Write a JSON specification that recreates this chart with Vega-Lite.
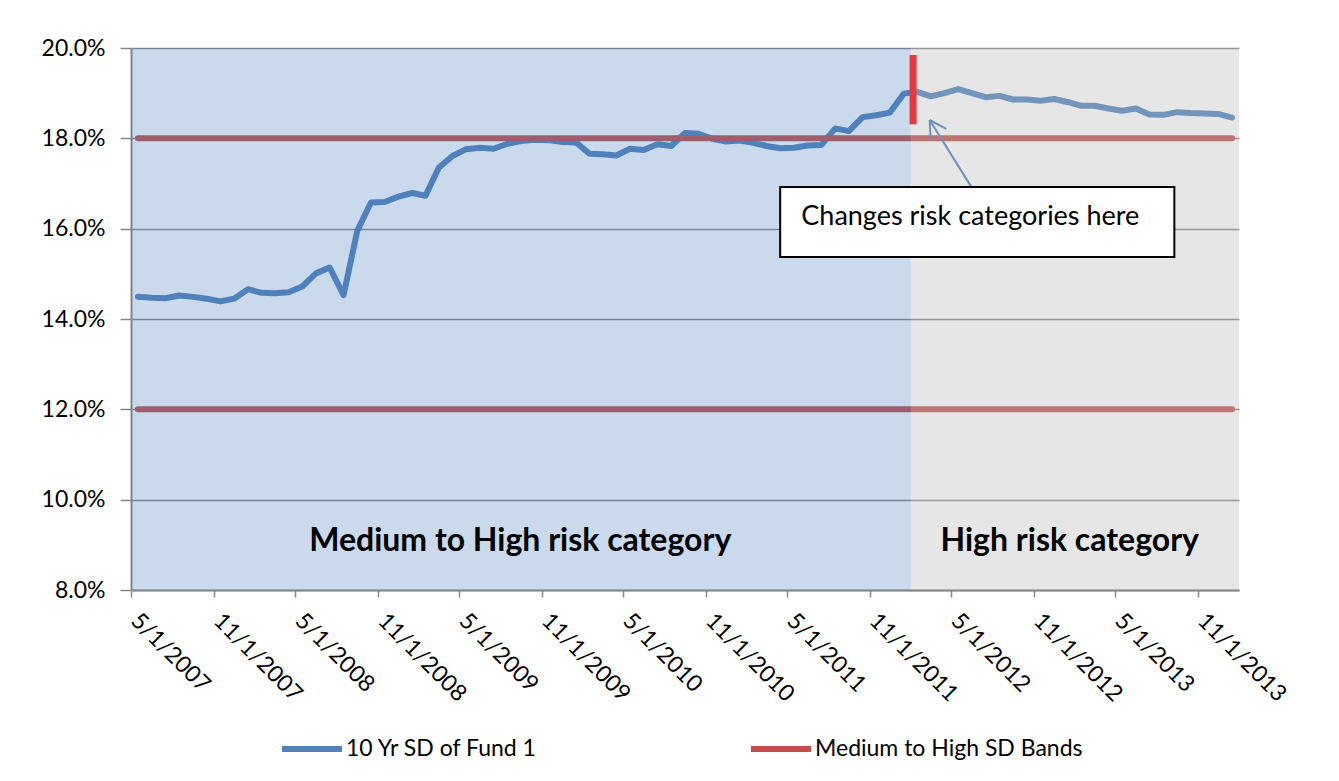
{
  "$schema": "https://vega.github.io/schema/vega-lite/v6.json",
  "width": 1108,
  "height": 542,
  "autosize": {"type": "none"},
  "padding": {"left": 131, "top": 48, "right": 100, "bottom": 191},
  "background": "white",
  "config": {"view": {"stroke": null}, "font": "Lato"},
  "datasets": {
    "sd": [
      {"date": "2007-05-01T00:00:00", "value": 0.1449},
      {"date": "2007-06-01T00:00:00", "value": 0.1447},
      {"date": "2007-07-01T00:00:00", "value": 0.1446},
      {"date": "2007-08-01T00:00:00", "value": 0.1452},
      {"date": "2007-09-01T00:00:00", "value": 0.1449},
      {"date": "2007-10-01T00:00:00", "value": 0.1445},
      {"date": "2007-11-01T00:00:00", "value": 0.1439},
      {"date": "2007-12-01T00:00:00", "value": 0.1445},
      {"date": "2008-01-01T00:00:00", "value": 0.1466},
      {"date": "2008-02-01T00:00:00", "value": 0.1458},
      {"date": "2008-03-01T00:00:00", "value": 0.1457},
      {"date": "2008-04-01T00:00:00", "value": 0.1459},
      {"date": "2008-05-01T00:00:00", "value": 0.1472},
      {"date": "2008-06-01T00:00:00", "value": 0.1501},
      {"date": "2008-07-01T00:00:00", "value": 0.1514},
      {"date": "2008-08-01T00:00:00", "value": 0.1453},
      {"date": "2008-09-01T00:00:00", "value": 0.1595},
      {"date": "2008-10-01T00:00:00", "value": 0.1658},
      {"date": "2008-11-01T00:00:00", "value": 0.1659},
      {"date": "2008-12-01T00:00:00", "value": 0.1671},
      {"date": "2009-01-01T00:00:00", "value": 0.1679},
      {"date": "2009-02-01T00:00:00", "value": 0.1673},
      {"date": "2009-03-01T00:00:00", "value": 0.1735},
      {"date": "2009-04-01T00:00:00", "value": 0.1761},
      {"date": "2009-05-01T00:00:00", "value": 0.1776},
      {"date": "2009-06-01T00:00:00", "value": 0.1779},
      {"date": "2009-07-01T00:00:00", "value": 0.1777},
      {"date": "2009-08-01T00:00:00", "value": 0.1788},
      {"date": "2009-09-01T00:00:00", "value": 0.1794},
      {"date": "2009-10-01T00:00:00", "value": 0.1797},
      {"date": "2009-11-01T00:00:00", "value": 0.1796},
      {"date": "2009-12-01T00:00:00", "value": 0.1792},
      {"date": "2010-01-01T00:00:00", "value": 0.1791},
      {"date": "2010-02-01T00:00:00", "value": 0.1766},
      {"date": "2010-03-01T00:00:00", "value": 0.1765},
      {"date": "2010-04-01T00:00:00", "value": 0.1762},
      {"date": "2010-05-01T00:00:00", "value": 0.1777},
      {"date": "2010-06-01T00:00:00", "value": 0.1774},
      {"date": "2010-07-01T00:00:00", "value": 0.1787},
      {"date": "2010-08-01T00:00:00", "value": 0.1783},
      {"date": "2010-09-01T00:00:00", "value": 0.1812},
      {"date": "2010-10-01T00:00:00", "value": 0.1810},
      {"date": "2010-11-01T00:00:00", "value": 0.1799},
      {"date": "2010-12-01T00:00:00", "value": 0.1793},
      {"date": "2011-01-01T00:00:00", "value": 0.1795},
      {"date": "2011-02-01T00:00:00", "value": 0.1790},
      {"date": "2011-03-01T00:00:00", "value": 0.1783},
      {"date": "2011-04-01T00:00:00", "value": 0.1778},
      {"date": "2011-05-01T00:00:00", "value": 0.1779},
      {"date": "2011-06-01T00:00:00", "value": 0.1784},
      {"date": "2011-07-01T00:00:00", "value": 0.1785},
      {"date": "2011-08-01T00:00:00", "value": 0.1822},
      {"date": "2011-09-01T00:00:00", "value": 0.1816},
      {"date": "2011-10-01T00:00:00", "value": 0.1847},
      {"date": "2011-11-01T00:00:00", "value": 0.1851},
      {"date": "2011-12-01T00:00:00", "value": 0.1857},
      {"date": "2012-01-01T00:00:00", "value": 0.1899},
      {"date": "2012-02-01T00:00:00", "value": 0.1903},
      {"date": "2012-03-01T00:00:00", "value": 0.1893},
      {"date": "2012-04-01T00:00:00", "value": 0.1900},
      {"date": "2012-05-01T00:00:00", "value": 0.1909},
      {"date": "2012-06-01T00:00:00", "value": 0.1900},
      {"date": "2012-07-01T00:00:00", "value": 0.1891},
      {"date": "2012-08-01T00:00:00", "value": 0.1894},
      {"date": "2012-09-01T00:00:00", "value": 0.1886},
      {"date": "2012-10-01T00:00:00", "value": 0.1886},
      {"date": "2012-11-01T00:00:00", "value": 0.1883},
      {"date": "2012-12-01T00:00:00", "value": 0.1887},
      {"date": "2013-01-01T00:00:00", "value": 0.1880},
      {"date": "2013-02-01T00:00:00", "value": 0.1872},
      {"date": "2013-03-01T00:00:00", "value": 0.1872},
      {"date": "2013-04-01T00:00:00", "value": 0.1866},
      {"date": "2013-05-01T00:00:00", "value": 0.1861},
      {"date": "2013-06-01T00:00:00", "value": 0.1866},
      {"date": "2013-07-01T00:00:00", "value": 0.1853},
      {"date": "2013-08-01T00:00:00", "value": 0.1852},
      {"date": "2013-09-01T00:00:00", "value": 0.1858},
      {"date": "2013-10-01T00:00:00", "value": 0.1856},
      {"date": "2013-11-01T00:00:00", "value": 0.1855},
      {"date": "2013-12-01T00:00:00", "value": 0.1854},
      {"date": "2014-01-01T00:00:00", "value": 0.1846}
    ],
    "bands": [
      {"date": "2007-05-01T00:00:00", "value": 0.18, "band": "upper"},
      {"date": "2014-01-01T00:00:00", "value": 0.18, "band": "upper"},
      {"date": "2007-05-01T00:00:00", "value": 0.12, "band": "lower"},
      {"date": "2014-01-01T00:00:00", "value": 0.12, "band": "lower"}
    ]
  },
  "layer": [
    {
      "data": {"name": "sd"},
      "mark": {"type": "line", "strokeWidth": 6, "strokeCap": "round", "strokeJoin": "round"},
      "encoding": {
        "x": {
          "field": "date", "type": "temporal", "timeUnit": "yearmonth", "bandPosition": 0.5,
          "scale": {"domain": [{"year": 2007, "month": 5, "date": 1}, {"year": 2014, "month": 2, "date": 1}]},
          "axis": {
            "values": [
              {"year": 2007, "month": 5, "date": 1}, {"year": 2007, "month": 11, "date": 1},
              {"year": 2008, "month": 5, "date": 1}, {"year": 2008, "month": 11, "date": 1},
              {"year": 2009, "month": 5, "date": 1}, {"year": 2009, "month": 11, "date": 1},
              {"year": 2010, "month": 5, "date": 1}, {"year": 2010, "month": 11, "date": 1},
              {"year": 2011, "month": 5, "date": 1}, {"year": 2011, "month": 11, "date": 1},
              {"year": 2012, "month": 5, "date": 1}, {"year": 2012, "month": 11, "date": 1},
              {"year": 2013, "month": 5, "date": 1}, {"year": 2013, "month": 11, "date": 1}
            ],
            "format": "%-m/%-d/%Y",
            "labelAngle": 45, "labelAlign": "left", "labelBaseline": "top",
            "labelFontSize": 23, "labelColor": "#000", "labelPadding": 12, "labelOffset": 11,
            "labelOverlap": false, "labelFlush": false, "labelBound": false, "labelLimit": 0,
            "tickColor": "#888", "tickSize": 7, "tickWidth": 1.5,
            "domainColor": "#888", "domainWidth": 2,
            "grid": false, "title": null
          }
        },
        "y": {
          "field": "value", "type": "quantitative",
          "scale": {"domain": [0.08, 0.2], "nice": false, "zero": false},
          "axis": {
            "values": [0.08, 0.1, 0.12, 0.14, 0.16, 0.18, 0.2],
            "format": ".1%", "labelFontSize": 23, "labelColor": "#000", "labelPadding": 15,
            "tickColor": "#888", "tickSize": 11, "tickWidth": 1.5,
            "domainColor": "#888", "domainWidth": 2,
            "gridColor": "#868686", "gridWidth": 1.5, "title": null
          }
        },
        "color": {
          "datum": "10 Yr SD of Fund 1",
          "scale": {"domain": ["10 Yr SD of Fund 1", "Medium to High SD Bands"], "range": ["#4F81BD", "#C0504D"]},
          "legend": {
            "orient": "none", "legendX": 148, "legendY": 668, "direction": "horizontal",
            "title": null, "symbolType": "stroke", "symbolSize": 3600, "symbolStrokeWidth": 6,
            "labelFontSize": 23, "labelColor": "#000", "labelLimit": 0, "columnPadding": 201, "labelOffset": 1,
            "padding": 0
          }
        }
      }
    },
    {
      "data": {"name": "bands"},
      "mark": {"type": "line", "strokeWidth": 6, "strokeCap": "round"},
      "encoding": {
        "x": {"field": "date", "type": "temporal", "timeUnit": "yearmonth", "bandPosition": 0.5},
        "y": {"field": "value", "type": "quantitative"},
        "color": {"datum": "Medium to High SD Bands"},
        "detail": {"field": "band"}
      }
    },
    {
      "data": {"values": [{"start": "2007-05-01T00:00:00", "end": "2012-02-01T00:00:00"}]},
      "mark": {"type": "rect", "color": "#4F81BD", "opacity": 0.3},
      "encoding": {
        "x": {"field": "start", "type": "temporal"},
        "x2": {"field": "end"},
        "y": {"datum": 0.2},
        "y2": {"datum": 0.08}
      }
    },
    {
      "data": {"values": [{"start": "2012-02-01T00:00:00", "end": "2014-02-01T00:00:00"}]},
      "mark": {"type": "rect", "color": "#B8B8B8", "opacity": 0.35},
      "encoding": {
        "x": {"field": "start", "type": "temporal"},
        "x2": {"field": "end"},
        "y": {"datum": 0.2},
        "y2": {"datum": 0.08}
      }
    },
    {
      "data": {"values": [
        {"date": "2009-09-14T00:00:00", "value": 0.0909, "label": "Medium to High risk category"},
        {"date": "2013-01-20T00:00:00", "value": 0.0909, "label": "High risk category"}
      ]},
      "mark": {"type": "text", "fontSize": 32, "fontWeight": "bold", "align": "center", "baseline": "middle", "color": "#000"},
      "encoding": {
        "x": {"field": "date", "type": "temporal"},
        "y": {"field": "value", "type": "quantitative"},
        "text": {"field": "label"}
      }
    },
    {
      "data": {"values": [
        {"date": "2012-03-14T00:00:00", "value": 0.18406, "seg": "shaft"},
        {"date": "2012-06-15T00:00:00", "value": 0.1692, "seg": "shaft"},
        {"date": "2012-03-14T00:00:00", "value": 0.18406, "seg": "wing1"},
        {"date": "2012-04-20T00:00:00", "value": 0.18207, "seg": "wing1"},
        {"date": "2012-03-14T00:00:00", "value": 0.18406, "seg": "wing2"},
        {"date": "2012-03-16T00:00:00", "value": 0.17985, "seg": "wing2"}
      ]},
      "mark": {"type": "line", "color": "#6F90C0", "strokeWidth": 2},
      "encoding": {
        "x": {"field": "date", "type": "temporal"},
        "y": {"field": "value", "type": "quantitative"},
        "detail": {"field": "seg"}
      }
    },
    {
      "data": {"values": [{"start": "2011-04-16T00:00:00", "end": "2013-09-10T00:00:00", "top": 0.16923, "bottom": 0.15373}]},
      "mark": {"type": "rect", "fill": "#ffffff", "stroke": "#000", "strokeWidth": 2},
      "encoding": {
        "x": {"field": "start", "type": "temporal"},
        "x2": {"field": "end"},
        "y": {"field": "top", "type": "quantitative"},
        "y2": {"field": "bottom"}
      }
    },
    {
      "data": {"values": [{"date": "2011-06-02T00:00:00", "value": 0.1626, "label": "Changes risk categories here"}]},
      "mark": {"type": "text", "fontSize": 27, "align": "left", "baseline": "middle", "color": "#000"},
      "encoding": {
        "x": {"field": "date", "type": "temporal"},
        "y": {"field": "value", "type": "quantitative"},
        "text": {"field": "label"}
      }
    },
    {
      "data": {"values": [{"date": "2012-02-06T00:00:00", "top": 0.19845, "bottom": 0.1831}]},
      "mark": {"type": "rule", "color": "#E8383D", "strokeWidth": 7},
      "encoding": {
        "x": {"field": "date", "type": "temporal"},
        "y": {"field": "top", "type": "quantitative"},
        "y2": {"field": "bottom"}
      }
    }
  ]
}
